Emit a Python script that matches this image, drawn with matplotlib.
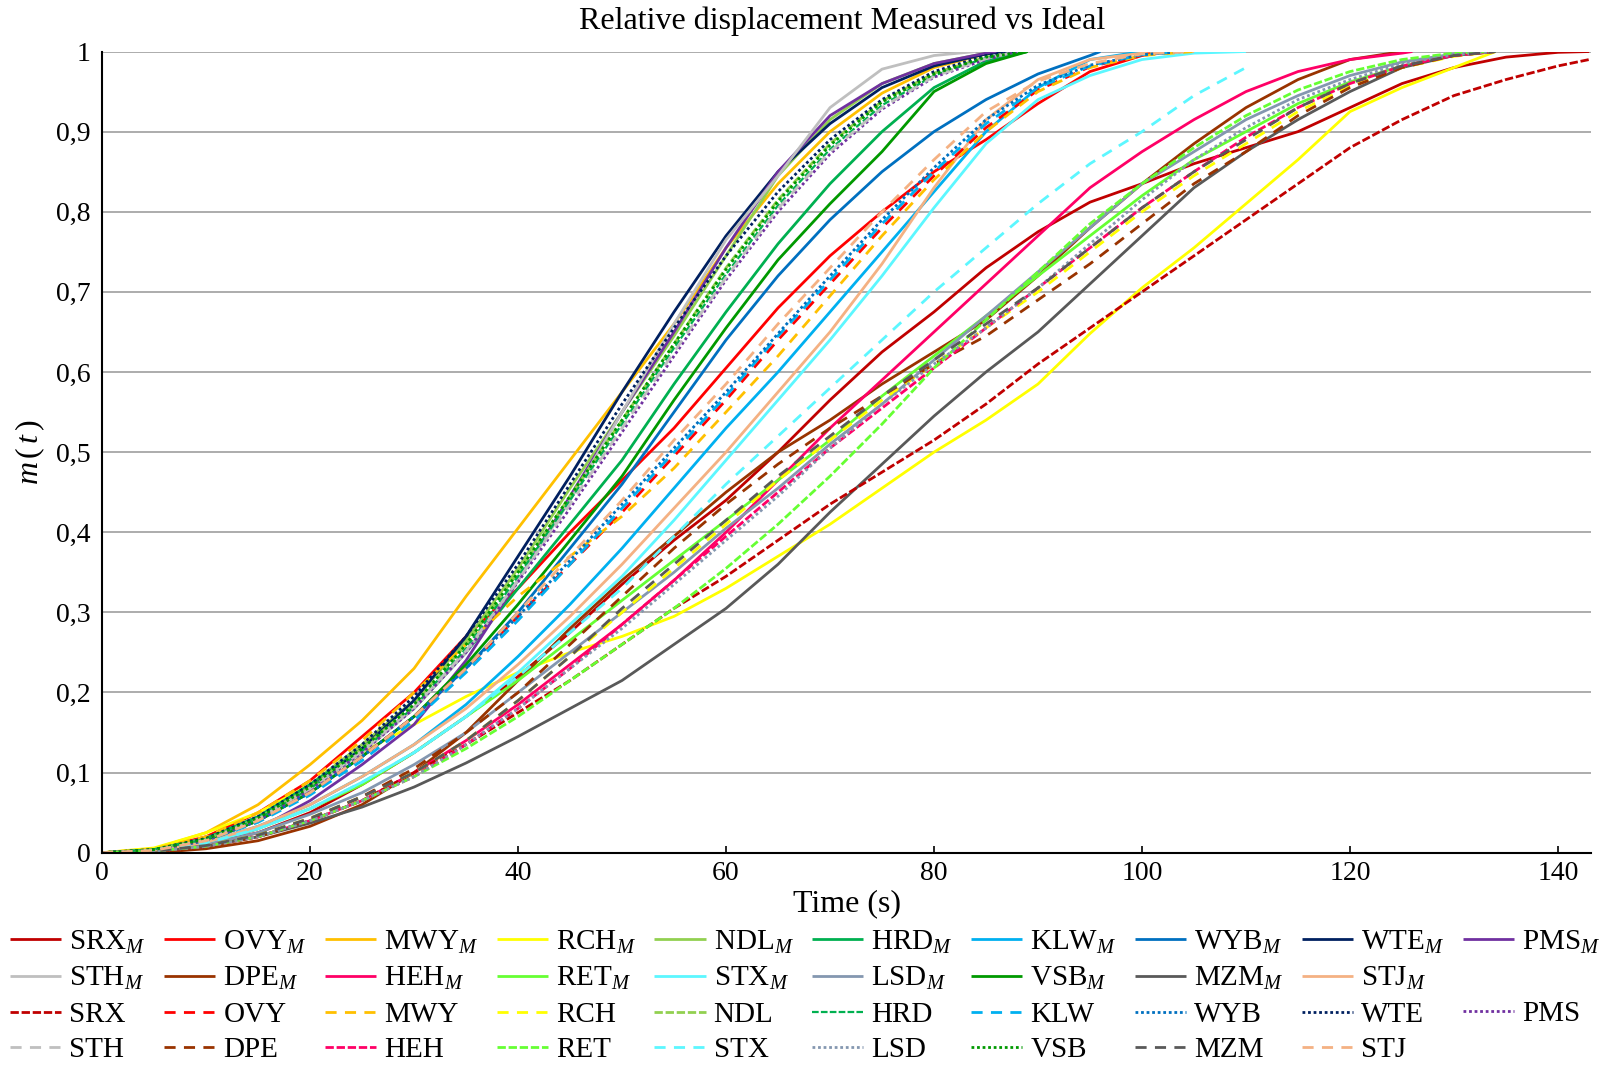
import numpy as np
import matplotlib
matplotlib.use("Agg")
import matplotlib.pyplot as plt
from matplotlib.lines import Line2D

plt.rcParams["font.family"] = ["Liberation Serif", "DejaVu Serif"]
plt.rcParams["mathtext.fontset"] = "custom"
plt.rcParams["mathtext.rm"] = "Liberation Serif"
plt.rcParams["mathtext.it"] = "Liberation Serif:italic"

STEP = 5  # values are sampled every 5 s; the last value sits at the end time

# ---- measured curves m(t) ----
SRX_M = [0, 0.002, 0.01, 0.025, 0.05, 0.085, 0.125, 0.17, 0.22, 0.275, 0.335, 0.39, 0.44, 0.5, 0.565,
         0.625, 0.675, 0.73, 0.775, 0.812, 0.835, 0.86, 0.88, 0.9, 0.93, 0.96, 0.98, 0.993, 0.999, 1.0]
OVY_M = [0, 0.004, 0.02, 0.05, 0.09, 0.145, 0.2, 0.27, 0.33, 0.4, 0.465, 0.53, 0.605, 0.68, 0.745,
         0.8, 0.85, 0.89, 0.935, 0.975, 0.995, 1.0]
MWY_M = [0, 0.005, 0.025, 0.06, 0.11, 0.165, 0.23, 0.32, 0.405, 0.49, 0.575, 0.66, 0.755, 0.835, 0.9,
         0.948, 0.98, 0.997, 1.0]
RCH_M = [0, 0.006, 0.025, 0.05, 0.085, 0.125, 0.16, 0.195, 0.225, 0.25, 0.27, 0.295, 0.33, 0.37, 0.41,
         0.455, 0.5, 0.54, 0.585, 0.648, 0.705, 0.755, 0.81, 0.865, 0.925, 0.955, 0.98, 1.0]
NDL_M = [0, 0.004, 0.018, 0.045, 0.085, 0.135, 0.19, 0.265, 0.355, 0.455, 0.55, 0.645, 0.745, 0.845,
         0.915, 0.96, 0.985, 0.998, 1.0]
HRD_M = [0, 0.004, 0.018, 0.045, 0.085, 0.13, 0.18, 0.25, 0.33, 0.41, 0.49, 0.585, 0.675, 0.76, 0.835,
         0.9, 0.955, 0.988, 1.0]
KLW_M = [0, 0.003, 0.013, 0.033, 0.06, 0.095, 0.135, 0.185, 0.245, 0.31, 0.38, 0.455, 0.53, 0.6, 0.675,
         0.75, 0.825, 0.9, 0.955, 0.99, 1.0]
WYB_M = [0, 0.003, 0.015, 0.04, 0.075, 0.12, 0.17, 0.23, 0.3, 0.38, 0.46, 0.55, 0.64, 0.72, 0.79,
         0.85, 0.9, 0.94, 0.972, 0.995, 1.0]
WTE_M = [0, 0.003, 0.015, 0.04, 0.08, 0.13, 0.19, 0.27, 0.37, 0.47, 0.575, 0.675, 0.77, 0.85, 0.91,
         0.955, 0.982, 0.997, 1.0]
PMS_M = [0, 0.002, 0.01, 0.03, 0.065, 0.11, 0.16, 0.24, 0.34, 0.445, 0.55, 0.65, 0.755, 0.85, 0.92,
         0.96, 0.985, 0.998, 1.0]
STH_M = [0, 0.003, 0.015, 0.04, 0.08, 0.125, 0.18, 0.25, 0.34, 0.44, 0.55, 0.66, 0.765, 0.845, 0.93,
         0.978, 0.995, 1.0]
DPE_M = [0, 0.0, 0.005, 0.015, 0.033, 0.06, 0.1, 0.15, 0.215, 0.28, 0.34, 0.395, 0.45, 0.5, 0.54,
         0.585, 0.625, 0.665, 0.72, 0.78, 0.835, 0.885, 0.93, 0.965, 0.99, 1.0]
HEH_M = [0, 0.002, 0.008, 0.02, 0.04, 0.065, 0.1, 0.14, 0.185, 0.235, 0.285, 0.34, 0.4, 0.465, 0.53,
         0.59, 0.65, 0.71, 0.77, 0.83, 0.875, 0.915, 0.95, 0.975, 0.99, 0.998, 1.0]
RET_M = [0, 0.003, 0.012, 0.03, 0.055, 0.085, 0.125, 0.17, 0.215, 0.265, 0.315, 0.365, 0.415, 0.465,
         0.515, 0.57, 0.62, 0.67, 0.72, 0.77, 0.82, 0.865, 0.9, 0.935, 0.962, 0.982, 0.995, 1.0]
STX_M = [0, 0.003, 0.012, 0.03, 0.055, 0.088, 0.125, 0.17, 0.225, 0.285, 0.345, 0.415, 0.49, 0.565,
         0.64, 0.72, 0.805, 0.885, 0.94, 0.97, 0.99, 0.998, 1.0]
LSD_M = [0, 0.003, 0.01, 0.025, 0.048, 0.075, 0.11, 0.15, 0.2, 0.25, 0.3, 0.35, 0.405, 0.455, 0.51,
         0.56, 0.615, 0.67, 0.725, 0.78, 0.835, 0.875, 0.915, 0.945, 0.97, 0.987, 0.997, 1.0]
VSB_M = [0, 0.003, 0.015, 0.04, 0.075, 0.12, 0.17, 0.235, 0.31, 0.39, 0.47, 0.565, 0.655, 0.74, 0.81,
         0.875, 0.95, 0.985, 1.0]
MZM_M = [0, 0.002, 0.008, 0.02, 0.037, 0.057, 0.082, 0.112, 0.145, 0.18, 0.215, 0.26, 0.305, 0.36,
         0.425, 0.485, 0.545, 0.6, 0.65, 0.71, 0.77, 0.83, 0.875, 0.915, 0.95, 0.98, 0.995, 1.0]
STJ_M = [0, 0.003, 0.013, 0.033, 0.06, 0.095, 0.135, 0.18, 0.235, 0.295, 0.36, 0.43, 0.5, 0.575, 0.65,
         0.735, 0.83, 0.915, 0.965, 0.99, 0.998, 1.0]

# ---- ideal curves m(t) ----
SRX = [0, 0.002, 0.008, 0.02, 0.04, 0.065, 0.1, 0.135, 0.175, 0.215, 0.26, 0.305, 0.345, 0.39, 0.435,
       0.475, 0.515, 0.56, 0.61, 0.655, 0.7, 0.745, 0.79, 0.835, 0.88, 0.915, 0.945, 0.965, 0.982, 0.99]
OVY = [0, 0.003, 0.015, 0.04, 0.075, 0.12, 0.17, 0.23, 0.295, 0.36, 0.425, 0.495, 0.565, 0.64, 0.71,
       0.78, 0.845, 0.905, 0.952, 0.981, 0.996, 1.0]
MWY = [0, 0.005, 0.02, 0.05, 0.09, 0.14, 0.2, 0.26, 0.32, 0.37, 0.42, 0.48, 0.55, 0.62, 0.695, 0.77,
       0.84, 0.9, 0.95, 0.98, 0.995, 1.0]
RCH = [0, 0.002, 0.009, 0.022, 0.043, 0.07, 0.1, 0.14, 0.19, 0.245, 0.3, 0.355, 0.41, 0.465, 0.515,
       0.565, 0.61, 0.655, 0.7, 0.75, 0.8, 0.845, 0.885, 0.925, 0.957, 0.98, 0.994, 1.0]
NDL = [0, 0.004, 0.017, 0.043, 0.082, 0.13, 0.185, 0.26, 0.35, 0.445, 0.54, 0.635, 0.73, 0.815, 0.885,
       0.938, 0.973, 0.993, 1.0]
HRD = [0, 0.004, 0.017, 0.042, 0.08, 0.127, 0.182, 0.255, 0.345, 0.44, 0.535, 0.63, 0.722, 0.808,
       0.878, 0.933, 0.97, 0.992, 1.0]
KLW = [0, 0.003, 0.015, 0.038, 0.072, 0.115, 0.165, 0.225, 0.29, 0.36, 0.43, 0.5, 0.57, 0.645, 0.715,
       0.785, 0.85, 0.91, 0.955, 0.982, 0.996, 1.0]
WYB = [0, 0.003, 0.015, 0.04, 0.075, 0.12, 0.17, 0.23, 0.295, 0.365, 0.435, 0.505, 0.575, 0.648, 0.72,
       0.79, 0.855, 0.915, 0.958, 0.983, 0.996, 1.0]
WTE = [0, 0.004, 0.018, 0.045, 0.085, 0.135, 0.195, 0.27, 0.36, 0.46, 0.56, 0.655, 0.745, 0.825, 0.89,
       0.94, 0.975, 0.995, 1.0]
PMS = [0, 0.003, 0.016, 0.041, 0.079, 0.125, 0.18, 0.25, 0.338, 0.43, 0.525, 0.62, 0.715, 0.8, 0.872,
       0.928, 0.968, 0.99, 1.0]
STH = [0, 0.003, 0.016, 0.042, 0.08, 0.127, 0.182, 0.252, 0.34, 0.435, 0.53, 0.625, 0.718, 0.804,
       0.875, 0.93, 0.969, 0.991, 1.0]
DPE = [0, 0.002, 0.008, 0.02, 0.042, 0.07, 0.105, 0.15, 0.2, 0.26, 0.32, 0.38, 0.435, 0.485, 0.53,
       0.57, 0.61, 0.645, 0.69, 0.735, 0.785, 0.835, 0.875, 0.92, 0.955, 0.98, 0.995, 1.0]
HEH = [0, 0.002, 0.008, 0.02, 0.04, 0.065, 0.095, 0.135, 0.18, 0.23, 0.285, 0.34, 0.395, 0.45, 0.505,
       0.555, 0.605, 0.655, 0.705, 0.755, 0.805, 0.85, 0.893, 0.93, 0.96, 0.982, 0.995, 1.0]
RET = [0, 0.002, 0.008, 0.02, 0.04, 0.065, 0.095, 0.13, 0.17, 0.215, 0.26, 0.305, 0.355, 0.41, 0.47,
       0.535, 0.605, 0.665, 0.725, 0.785, 0.835, 0.88, 0.92, 0.952, 0.975, 0.99, 0.998, 1.0]
STX = [0, 0.003, 0.012, 0.03, 0.055, 0.088, 0.125, 0.17, 0.22, 0.275, 0.33, 0.395, 0.46, 0.52, 0.58,
       0.64, 0.7, 0.755, 0.81, 0.86, 0.9, 0.945, 0.98]
LSD = [0, 0.002, 0.008, 0.02, 0.04, 0.065, 0.095, 0.135, 0.18, 0.23, 0.28, 0.335, 0.39, 0.445, 0.505,
       0.56, 0.61, 0.655, 0.705, 0.76, 0.815, 0.865, 0.905, 0.94, 0.965, 0.985, 0.996, 1.0]
VSB = [0, 0.004, 0.017, 0.043, 0.082, 0.13, 0.185, 0.26, 0.35, 0.445, 0.54, 0.635, 0.728, 0.813,
       0.883, 0.937, 0.972, 0.993, 1.0]
MZM = [0, 0.002, 0.009, 0.022, 0.043, 0.07, 0.1, 0.14, 0.19, 0.245, 0.305, 0.36, 0.415, 0.47, 0.52,
       0.57, 0.615, 0.66, 0.705, 0.755, 0.805, 0.85, 0.89, 0.93, 0.96, 0.982, 0.995, 1.0]
STJ = [0, 0.003, 0.015, 0.04, 0.075, 0.12, 0.17, 0.23, 0.3, 0.37, 0.44, 0.515, 0.585, 0.66, 0.73,
       0.8, 0.865, 0.925, 0.963, 0.985, 0.997, 1.0]

# time (s) of the last sample of each station, measured / ideal
END_M = {"SRX": 143, "OVY": 103, "MWY": 86, "RCH": 134, "NDL": 87, "HRD": 89, "KLW": 100,
         "WYB": 96, "WTE": 87, "PMS": 86, "STH": 84, "DPE": 125, "HEH": 126, "RET": 134,
         "STX": 110, "LSD": 134, "VSB": 89, "MZM": 134, "STJ": 104}
END_I = {"SRX": 143, "OVY": 103, "MWY": 105, "RCH": 134, "NDL": 88, "HRD": 88, "KLW": 104,
         "WYB": 104, "WTE": 88, "PMS": 88, "STH": 88, "DPE": 134, "HEH": 134, "RET": 134,
         "STX": 110, "LSD": 134, "VSB": 89, "MZM": 134, "STJ": 105}

STATIONS = ["SRX", "OVY", "MWY", "RCH", "NDL", "HRD", "KLW", "WYB", "WTE", "PMS",
            "STH", "DPE", "HEH", "RET", "STX", "LSD", "VSB", "MZM", "STJ"]
MEASURED = [SRX_M, OVY_M, MWY_M, RCH_M, NDL_M, HRD_M, KLW_M, WYB_M, WTE_M, PMS_M,
            STH_M, DPE_M, HEH_M, RET_M, STX_M, LSD_M, VSB_M, MZM_M, STJ_M]
IDEAL = [SRX, OVY, MWY, RCH, NDL, HRD, KLW, WYB, WTE, PMS,
         STH, DPE, HEH, RET, STX, LSD, VSB, MZM, STJ]

COLORS = {"SRX": "#C00000", "OVY": "#FF0000", "MWY": "#FFC000", "RCH": "#FFFF00", "NDL": "#92D050",
          "HRD": "#00B050", "KLW": "#00B0F0", "WYB": "#0070C0", "WTE": "#002060", "PMS": "#7030A0",
          "STH": "#BFBFBF", "DPE": "#993300", "HEH": "#FF0066", "RET": "#66FF33", "STX": "#5CF7FF",
          "LSD": "#8497B0", "VSB": "#009900", "MZM": "#595959", "STJ": "#F4B183"}

SYS_DASH = (0, (3, 1))
DASH = (0, (4, 3))
SYS_DOT = (0, (1, 1))
IDEAL_STYLE = {"SRX": SYS_DASH, "OVY": DASH, "MWY": DASH, "RCH": DASH, "NDL": SYS_DASH,
               "HRD": SYS_DASH, "KLW": DASH, "WYB": SYS_DOT, "WTE": SYS_DOT, "PMS": SYS_DOT,
               "STH": DASH, "DPE": DASH, "HEH": SYS_DASH, "RET": SYS_DASH, "STX": DASH,
               "LSD": SYS_DOT, "VSB": SYS_DOT, "MZM": DASH, "STJ": DASH}


def sample_times(values, end):
    t = np.arange(len(values) - 1, dtype=float) * STEP
    return np.append(t, end)


fig = plt.figure(figsize=(16.15, 10.69), dpi=100)
ax = fig.add_axes([0.0632, 0.2023, 0.9221, 0.7495])

LW = 2.0
handles_m, handles_i = [], []
for name, vals in zip(STATIONS, MEASURED):
    ln, = ax.plot(sample_times(vals, END_M[name]), vals, color=COLORS[name], lw=LW,
                  solid_capstyle="butt", solid_joinstyle="round", label=name + "$_{M}$")
    handles_m.append(ln)
for name, vals in zip(STATIONS, IDEAL):
    lw = 1.6 if name == "HRD" else LW
    ln, = ax.plot(sample_times(vals, END_I[name]), vals, color=COLORS[name], lw=lw,
                  linestyle=IDEAL_STYLE[name], dash_capstyle="butt", label=name)
    handles_i.append(ln)

ax.set_xlim(0, 143.2)
ax.set_ylim(0, 1)
ax.set_xticks(np.arange(0, 141, 20))
ax.set_yticks(np.arange(0, 1.01, 0.1))
ax.set_yticklabels(["0"] + ["0,%d" % i for i in range(1, 10)] + ["1"])
ax.tick_params(axis="x", direction="in", length=5, width=1.2, labelsize=20, pad=6)
ax.tick_params(axis="y", length=0, labelsize=20, pad=8)
ax.yaxis.grid(True, color="#A6A6A6", lw=1.3)
ax.set_axisbelow(True)
for s in ("top", "right"):
    ax.spines[s].set_visible(False)
ax.spines["left"].set_linewidth(1.5)
ax.spines["bottom"].set_linewidth(1.5)

fig.text(0.5215, 0.980, "Relative displacement Measured vs Ideal", fontsize=23,
         ha="center", va="center")
ax.set_xlabel("Time (s)", fontsize=23)
ax.xaxis.set_label_coords(0.5, -0.0631)
ax.xaxis.label.set_va("center")
ax.set_ylabel("$m\\,(\\,t\\,)$", fontsize=23)
ax.yaxis.set_label_coords(-0.048, 0.5)
ax.yaxis.label.set_va("center")

# legend laid out row by row: measured rows first, then ideal rows
blank = Line2D([], [], lw=0)
row1 = handles_m[:10]
row2 = handles_m[10:] + [blank]
row3 = handles_i[:10]
row4 = handles_i[10:] + [blank]
order = []
for c in range(10):
    order += [row1[c], row2[c], row3[c], row4[c]]
labels = [h.get_label() if h is not blank else "" for h in order]
fig.legend(order, labels, ncol=10, loc="upper left", bbox_to_anchor=(0.006, 0.1313, 0.985, 0.0),
           mode="expand", frameon=False, fontsize=21, handlelength=1.76, handletextpad=0.28,
           columnspacing=0.2, labelspacing=0.315, borderpad=0, borderaxespad=0)

fig.savefig("out.png", dpi=100)
